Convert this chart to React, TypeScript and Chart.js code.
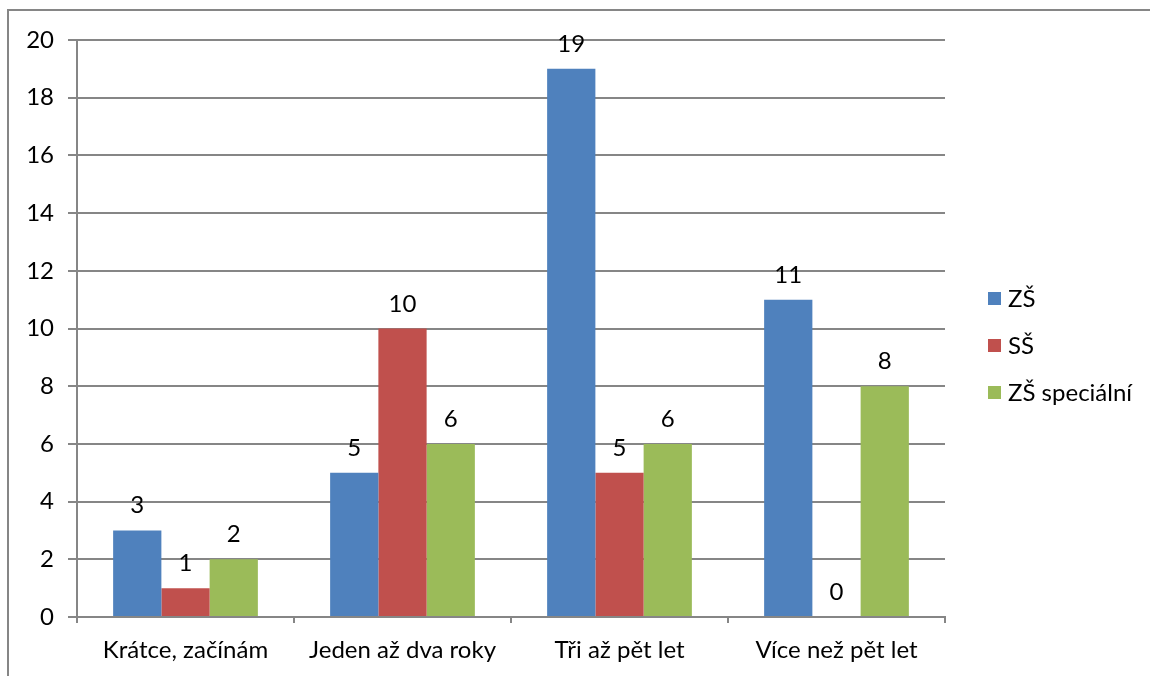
import React, { useEffect, useRef } from "react";
import { Chart, registerables } from "chart.js";

Chart.register(...registerables);

const categories = ["Krátce, začínám", "Jeden až dva roky", "Tři až pět let", "Více než pět let"];
const seriesNames = ["ZŠ", "SŠ", "ZŠ speciální"];
const zsValues = [3, 5, 19, 11];
const ssValues = [1, 10, 5, 0];
const zsSpecValues = [2, 6, 6, 8];
const seriesColors = ["#4F81BD", "#C0504D", "#9BBB59"];
const yMin = 0;
const yMax = 20;
const yStep = 2;

const FONT = "Lato, Calibri, 'Liberation Sans', sans-serif";
const FONT_SIZE = 24;
const GRID = "#868686";

const valueLabels = {
  id: "valueLabels",
  afterDatasetsDraw(chart: any) {
    const ctx = chart.ctx;
    ctx.save();
    ctx.font = `${FONT_SIZE}px ${FONT}`;
    ctx.fillStyle = "#000";
    ctx.textAlign = "center";
    ctx.textBaseline = "alphabetic";
    chart.data.datasets.forEach((ds: any, di: number) => {
      const meta = chart.getDatasetMeta(di);
      meta.data.forEach((el: any, i: number) => {
        ctx.fillText(String(ds.data[i]), el.x, el.y - 17);
      });
    });
    ctx.restore();
  },
};

const sideLegend = {
  id: "sideLegend",
  afterDraw(chart: any) {
    const ctx = chart.ctx;
    const area = chart.chartArea;
    const x = area.right + 43;
    const mid = (area.top + area.bottom) / 2 + 17;
    const spacing = 47;
    const n = chart.data.datasets.length;
    ctx.save();
    ctx.font = `${FONT_SIZE}px ${FONT}`;
    ctx.textAlign = "left";
    ctx.textBaseline = "middle";
    chart.data.datasets.forEach((ds: any, i: number) => {
      const cy = mid + (i - (n - 1) / 2) * spacing;
      ctx.fillStyle = ds.backgroundColor;
      ctx.fillRect(x, cy - 6.5, 13, 13);
      ctx.fillStyle = "#000";
      ctx.fillText(ds.label, x + 20, cy + 1);
    });
    ctx.restore();
  },
};

export default function App() {
  const ref = useRef<HTMLCanvasElement | null>(null);
  useEffect(() => {
    if (!ref.current) return;
    const data = [zsValues, ssValues, zsSpecValues];
    const chart = new Chart(ref.current, {
      type: "bar",
      data: {
        labels: categories,
        datasets: seriesNames.map((name, i) => ({
          label: name,
          data: data[i],
          backgroundColor: seriesColors[i],
          borderWidth: 0,
          categoryPercentage: 0.667,
          barPercentage: 1,
        })),
      },
      options: {
        responsive: false,
        animation: false,
        devicePixelRatio: 1,
        layout: { padding: { top: 40, right: 205, left: 0, bottom: 0 } },
        plugins: {
          legend: { display: false },
          tooltip: { enabled: false },
        },
        scales: {
          x: {
            grid: {
              drawOnChartArea: false,
              offset: true,
              tickLength: 6,
              color: GRID,
              lineWidth: 2,
            },
            border: { display: true, color: GRID, width: 2 },
            ticks: {
              font: { family: FONT, size: FONT_SIZE },
              color: "#000",
              padding: 13,
              maxRotation: 0,
            },
            afterFit: (scale: any) => {
              scale.height = 59;
            },
          },
          y: {
            min: yMin,
            max: yMax,
            ticks: {
              stepSize: yStep,
              font: { family: FONT, size: FONT_SIZE },
              color: "#000",
              padding: 14,
            },
            grid: {
              color: GRID,
              lineWidth: 2,
              tickLength: 9,
            },
            border: { display: true, color: GRID, width: 2 },
            afterFit: (scale: any) => {
              scale.width = 77;
            },
          },
        },
      },
      plugins: [valueLabels, sideLegend],
    });
    return () => chart.destroy();
  }, []);
  return (
    <div style={{ position: "absolute", left: 0, top: 0, width: 1150, height: 676, overflow: "hidden", background: "#fff" }}>
      <div
        style={{
          position: "absolute",
          left: 7,
          top: 9,
          width: 1200,
          height: 720,
          border: `2px solid ${GRID}`,
        }}
      />
      <canvas ref={ref} width={1150} height={676} style={{ position: "absolute", left: 0, top: 0 }} />
    </div>
  );
}
